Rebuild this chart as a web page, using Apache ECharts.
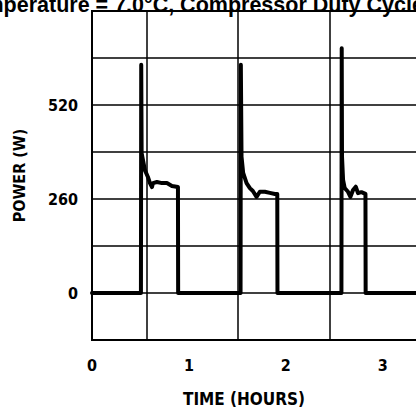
<!DOCTYPE html>
<html>
<head>
<meta charset="utf-8">
<script src="https://cdn.jsdelivr.net/npm/echarts@6/dist/echarts.min.js"></script>
<style>html,body{margin:0;padding:0;background:#fff}#c{width:416px;height:412px}</style>
</head>
<body>
<div id="c"></div>
<script>
// Data
var timeHours = [0, 0.505, 0.508, 0.512, 0.546, 0.577, 0.598, 0.619, 0.629, 0.670, 0.722, 0.773, 0.825, 0.887, 0.889,
  1.533, 1.536, 1.543, 1.560, 1.595, 1.629, 1.660, 1.698, 1.732, 1.784, 1.835, 1.887, 1.912, 1.914,
  2.574, 2.577, 2.580, 2.591, 2.608, 2.642, 2.667, 2.694, 2.722, 2.745, 2.780, 2.822, 2.824, 3.6];
var powerW = [0, 0, 631, 387, 340, 321, 304, 293, 304, 307, 304, 304, 296, 293, 0,
  0, 631, 377, 332, 304, 290, 282, 266, 280, 280, 277, 274, 274, 0,
  0, 677, 377, 313, 290, 280, 266, 285, 294, 276, 279, 274, 0, 0];
var verticalGridHours = [0.567, 1.495, 2.454];
var yLabelValues = [0, 260, 520];
var xTickLabels = ['0', '1', '2', '3'];

var font = '"DejaVu Sans Condensed", "Liberation Sans Narrow", sans-serif';
var chart = echarts.init(document.getElementById('c'), null, {renderer: 'svg'});
var pts = timeHours.map(function (t, i) { return [t, powerW[i]]; });

chart.setOption({
  animation: false,
  backgroundColor: '#fff',
  title: {
    text: 'Temperature = 7.0°C, Compressor Duty Cycle',
    left: -44, top: -11,
    textStyle: {fontFamily: 'Liberation Sans, Arial, sans-serif', fontWeight: 'bold', fontSize: 21.5, color: '#000'}
  },
  grid: {left: 92, width: 344, top: 11, height: 329, outerBoundsMode: 'none', containLabel: false,
    show: true, borderColor: '#000', borderWidth: 2, backgroundColor: 'transparent'},
  xAxis: {
    type: 'value', min: 0, max: 3.55, interval: 1,
    axisLine: {show: true, onZero: false, lineStyle: {color: '#000', width: 2}},
    axisTick: {show: false},
    splitLine: {show: false},
    axisLabel: {margin: 17, color: '#000', fontFamily: font, fontWeight: 'bold', fontSize: 16,
      formatter: function (v) { var i = Math.round(v); return (Math.abs(v - i) < 1e-6 && xTickLabels[i] !== undefined) ? xTickLabels[i] : ''; }},
    name: 'TIME (HOURS)', nameLocation: 'middle', nameGap: 50,
    nameTextStyle: {color: '#000', fontFamily: font, fontWeight: 'bold', fontSize: 17, padding: [0, 40, 0, 0]}
  },
  yAxis: {
    type: 'value', min: -130, max: 780, interval: 130,
    axisLine: {show: true, lineStyle: {color: '#000', width: 2}},
    axisTick: {show: false},
    splitLine: {show: true, lineStyle: {color: '#000', width: 1.5}},
    axisLabel: {margin: 14, color: '#000', fontFamily: font, fontWeight: 'bold', fontSize: 16,
      formatter: function (v) { return yLabelValues.indexOf(v) >= 0 ? String(v) : ''; }},
    name: 'POWER (W)', nameLocation: 'middle', nameGap: 65, nameRotate: 90,
    nameTextStyle: {color: '#000', fontFamily: font, fontWeight: 'bold', fontSize: 16}
  },
  series: [{
    type: 'line', data: pts, symbol: 'none', silent: true,
    lineStyle: {color: '#000', width: 4, join: 'round', cap: 'round'},
    markLine: {
      silent: true, symbol: ['none', 'none'], label: {show: false},
      lineStyle: {color: '#000', width: 1.5, type: 'solid'},
      data: verticalGridHours.map(function (h) { return {xAxis: h}; })
    },
    z: 5
  }]
});
</script>
</body>
</html>
